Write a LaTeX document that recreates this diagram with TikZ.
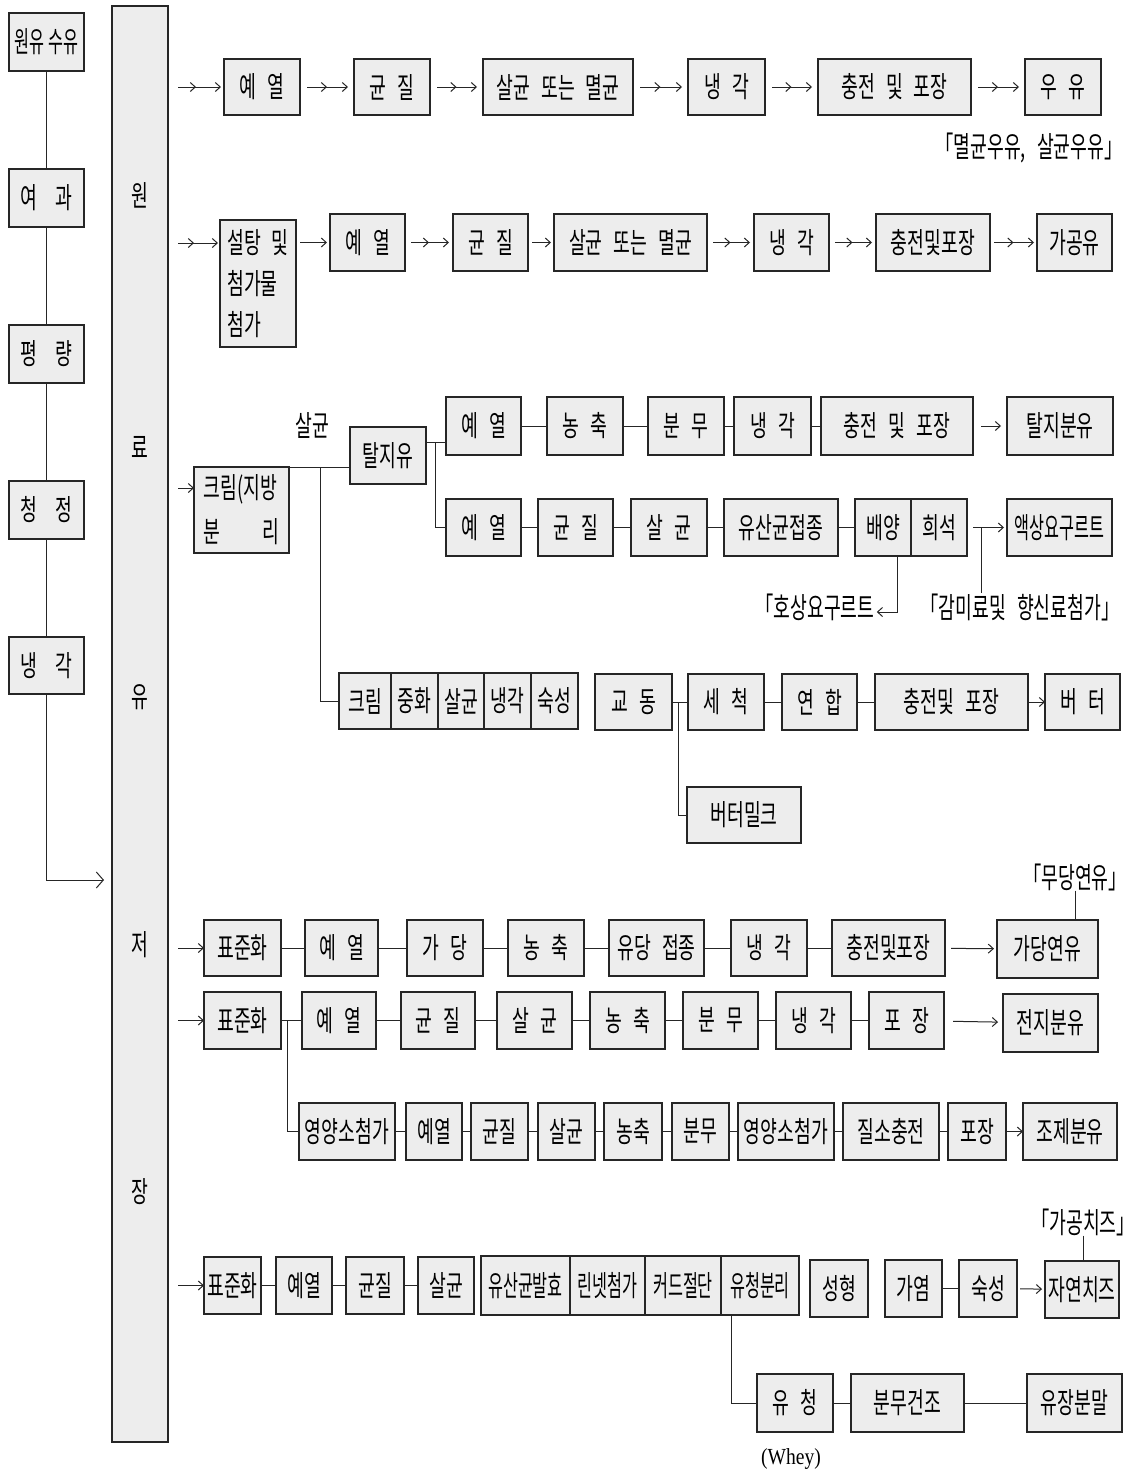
\documentclass[tikz,border=0pt]{standalone}
\usepackage{fontspec}
\newfontfamily\kr[FakeStretch=0.63]{Noto Sans CJK KR}
\newfontfamily\krs[FakeStretch=0.56]{Noto Sans CJK KR}
\newfontfamily\wh[FakeStretch=0.85]{Liberation Serif}
\usetikzlibrary{arrows.meta,calc,decorations.markings}
\newcommand\kfontsel{\kr\fontsize{29}{33}\selectfont\spaceskip=11pt\relax}
\newcommand\wfontsel{\wh\fontsize{23}{26}\selectfont}
\newcommand\mybox[6]{%
  \pgfmathsetmacro\mybw{#4-#2}\pgfmathsetmacro\mybh{#5-#3}%
  \pgfmathsetmacro\mycx{(#2+#4)/2}\pgfmathsetmacro\mycy{(#3+#5)/2}%
  \node[bx,minimum width=\mybw pt,minimum height=\mybh pt] (#1) at (\mycx,\mycy) {#6};}
\begin{document}
\begin{tikzpicture}[x=1pt,y=-1pt,
  bx/.style={draw=black!85,line width=1.3pt,fill=black!7,inner sep=0pt,outer sep=0pt,font=\kfontsel,align=center},
  txt/.style={inner sep=0pt,font=\kfontsel},
  ln/.style={line width=1pt,draw=black!85},
  ar/.style={ln,-{Straight Barb[length=5pt,width=9pt]}},
  dar/.style={ar,postaction={decorate},decoration={markings,mark=at position 0.5 with {\arrow{Straight Barb[length=5pt,width=9pt]}}}}]
\fill[white] (0,0) rectangle (1136,1473);
\useasboundingbox (0,0) rectangle (1136,1473);
% left column
\mybox{l1}{9}{13}{84}{71}{{\krs\spaceskip=4pt 원유 수유}}
\mybox{l2}{9}{169}{84}{227}{여\hspace{18pt}과}
\mybox{l3}{9}{325}{84}{383}{평\hspace{18pt}량}
\mybox{l4}{9}{481}{84}{539}{청\hspace{18pt}정}
\mybox{l5}{9}{637}{84}{694}{냉\hspace{18pt}각}
\coordinate (la) at (104,880);
\draw[ln] (l1)--(l2) (l2)--(l3) (l3)--(l4) (l4)--(l5);
\draw[ln,-{Straight Barb[length=7pt,width=16pt]}] (l5.south) |- (la);
% storage
\mybox{store}{112}{6}{168}{1442}{}
\node[txt] (s1) at (140,195) {원};
\node[txt] (s2) at (140,447) {료};
\node[txt] (s3) at (140,697) {유};
\node[txt] (s4) at (140,945) {저};
\node[txt] (s5) at (140,1192) {장};
% row 1
\mybox{r1a}{224}{59}{300}{115}{예 열}
\mybox{r1b}{354}{59}{430}{115}{균 질}
\mybox{r1c}{483}{59}{633}{115}{살균 또는 멸균}
\mybox{r1d}{688}{59}{765}{115}{냉 각}
\mybox{r1e}{818}{59}{971}{115}{충전 및 포장}
\mybox{r1f}{1025}{59}{1101}{115}{우 유}
\node[txt] (c1) at (1029,148) {「멸균우유, 살균우유」};
\draw[dar,shorten <=10pt,shorten >=3pt] (r1a.west -| store.east) -- (r1a.west);
\draw[dar,shorten <=7pt,shorten >=6pt] (r1a) -- (r1b);
\draw[dar,shorten <=7pt,shorten >=6pt] (r1b) -- (r1c);
\draw[dar,shorten <=7pt,shorten >=6pt] (r1c) -- (r1d);
\draw[dar,shorten <=7pt,shorten >=6pt] (r1d) -- (r1e);
\draw[dar,shorten <=7pt,shorten >=6pt] (r1e) -- (r1f);
% row 2
\mybox{r2a}{220}{220}{296}{347}{}
\node[txt,align=left] (r2at) at (r2a.center) {설탕 및\\[8pt]첨가물\\[8pt]첨가};
\mybox{r2b}{330}{214}{405}{271}{예 열}
\mybox{r2c}{453}{214}{528}{271}{균 질}
\mybox{r2d}{554}{214}{707}{271}{살균 또는 멸균}
\mybox{r2e}{754}{214}{829}{271}{냉 각}
\mybox{r2f}{876}{214}{990}{271}{충전및포장}
\mybox{r2g}{1037}{214}{1112}{271}{가공유}
\coordinate (r2in) at ($(r2a.north west)+(0,23)$);
\draw[dar,shorten <=10pt,shorten >=2pt] (r2in -| store.east) -- (r2in);
\draw[ar,shorten <=4pt,shorten >=3pt] (r2a.east |- r2b.west) -- (r2b.west);
\draw[dar,shorten <=6pt,shorten >=4pt] (r2b) -- (r2c);
\draw[ar,shorten <=4pt,shorten >=3pt] (r2c) -- (r2d);
\draw[dar,shorten <=6pt,shorten >=4pt] (r2d) -- (r2e);
\draw[dar,shorten <=6pt,shorten >=4pt] (r2e) -- (r2f);
\draw[dar,shorten <=4pt,shorten >=3pt] (r2f) -- (r2g);
% cream separation
\mybox{krim}{194}{467}{289}{553}{}
\node[txt,align=left] (krimt) at (krim.center) {크림(지방\\[11pt]분\hspace*{42pt}리};
\node[txt] (sal) at (312,425) {살균};
\mybox{tal}{350}{427}{426}{484}{탈지유}
\coordinate (kin) at ($(krim.west)+(0,-22)$);
\draw[ar,shorten <=10pt] (kin -| store.east) -- (kin);
\draw[ln] (krim.north east) -- (krim.north east -| tal.west);
\coordinate (j1) at (320,468);
% upper skim branch
\mybox{su1}{446}{397}{521}{455}{예 열}
\mybox{su2}{547}{397}{623}{455}{농 축}
\mybox{su3}{648}{397}{724}{455}{분 무}
\mybox{su4}{734}{397}{811}{455}{냉 각}
\mybox{su5}{821}{397}{973}{455}{충전 및 포장}
\mybox{su6}{1007}{397}{1113}{455}{탈지분유}
\coordinate (talo) at ($(tal.east)+(0,-13)$);
\coordinate (j2) at (435,442);
\draw[ln] (talo) -- (talo -| su1.west);
\draw[ln] (su1)--(su2) (su2)--(su3) (su3)--(su4) (su4)--(su5);
\draw[ar,shorten <=8pt,shorten >=6pt] (su5) -- (su6);
% lower yoghurt branch
\mybox{sl1}{446}{499}{521}{556}{예 열}
\mybox{sl2}{538}{499}{613}{556}{균 질}
\mybox{sl3}{631}{499}{707}{556}{살 균}
\mybox{sl4}{724}{499}{838}{556}{유산균접종}
\mybox{sl5}{855}{499}{911}{556}{배양}
\mybox{sl6}{911}{499}{967}{556}{희석}
\mybox{sl7}{1007}{499}{1112}{556}{{\krs 액상요구르트}}
\draw[line width=2.6pt,draw=black!85] (sl5.north east) -- (sl5.south east);
\draw[ln] (j2) |- (sl1.west);
\draw[ln] (sl1)--(sl2) (sl2)--(sl3) (sl3)--(sl4) (sl4)--(sl5);
\draw[ar,shorten <=6pt,shorten >=3pt] (sl6) -- (sl7);
\coordinate (j3) at (981,528);
\node[txt] (cap1) at (815,607) {「호상요구르트};
\node[txt] (cap2) at (1020,607) {「감미료및 향신료첨가」};
\draw[ln] (j3) -- (j3 |- cap2.north);
\draw[ar] ($(sl5.south)+(14,0)$) |- ($(cap1.east)+(2,5)$);
% butter
\mybox{bk1}{339}{673}{391}{729}{크림}
\mybox{bk2}{391}{673}{438}{729}{중화}
\mybox{bk3}{438}{673}{484}{729}{살균}
\mybox{bk4}{484}{673}{531}{729}{냉각}
\mybox{bk5}{531}{673}{578}{729}{숙성}
\mybox{bk6}{595}{674}{672}{730}{교 동}
\mybox{bk7}{688}{674}{764}{730}{세 척}
\mybox{bk8}{782}{674}{857}{730}{연 합}
\mybox{bk9}{875}{674}{1028}{730}{충전및 포장}
\mybox{bk10}{1045}{674}{1120}{730}{버 터}
\mybox{bm}{687}{787}{801}{843}{버터밀크}
\draw[ln] (j1) |- (bk1.west);
\draw[ln] (bk6)--(bk7) (bk7)--(bk8) (bk8)--(bk9);
\draw[ar] (bk9) -- (bk10);
\coordinate (j4) at (678,702);
\draw[ln] (j4) |- (bm.west);
% condensed milk
\mybox{cd1}{204}{920}{281}{976}{표준화}
\mybox{cd2}{305}{920}{378}{976}{예 열}
\mybox{cd3}{407}{920}{483}{976}{가 당}
\mybox{cd4}{508}{920}{584}{976}{농 축}
\mybox{cd5}{609}{920}{704}{976}{유당 접종}
\mybox{cd6}{731}{920}{807}{976}{냉 각}
\mybox{cd7}{832}{920}{945}{976}{충전및포장}
\mybox{cd8}{997}{920}{1098}{978}{가당연유}
\node[txt] (cap3) at (1075,877) {「무당연유」};
\draw[ar,shorten <=10pt] (cd1.west -| store.east) -- (cd1.west);
\draw[ln] (cd1)--(cd2) (cd2)--(cd3) (cd3)--(cd4) (cd4)--(cd5) (cd5)--(cd6) (cd6)--(cd7);
\draw[ar,shorten <=6pt,shorten >=3pt] (cd7) -- (cd8);
\draw[ln] (cap3.south) -- (cap3.south |- cd8.north);
% whole milk powder
\mybox{w1}{204}{992}{281}{1049}{표준화}
\mybox{w2}{302}{992}{376}{1049}{예 열}
\mybox{w3}{401}{992}{475}{1049}{균 질}
\mybox{w4}{497}{992}{572}{1049}{살 균}
\mybox{w5}{590}{992}{665}{1049}{농 축}
\mybox{w6}{683}{992}{758}{1049}{분 무}
\mybox{w7}{776}{992}{851}{1049}{냉 각}
\mybox{w8}{869}{992}{944}{1049}{포 장}
\mybox{w9}{1003}{994}{1098}{1052}{전지분유}
\draw[ar,shorten <=10pt] (w1.west -| store.east) -- (w1.west);
\draw[ln] (w1)--(w2) (w2)--(w3) (w3)--(w4) (w4)--(w5) (w5)--(w6) (w6)--(w7) (w7)--(w8);
\draw[ar,shorten <=9pt,shorten >=5pt] (w8) -- (w9);
\coordinate (j5) at (287,1020);
% formula
\mybox{f1}{299}{1103}{395}{1160}{영양소첨가}
\mybox{f2}{406}{1103}{462}{1160}{예열}
\mybox{f3}{471}{1103}{528}{1160}{균질}
\mybox{f4}{538}{1103}{595}{1160}{살균}
\mybox{f5}{604}{1103}{662}{1160}{농축}
\mybox{f6}{672}{1103}{729}{1160}{분무}
\mybox{f7}{738}{1103}{834}{1160}{영양소첨가}
\mybox{f8}{843}{1103}{939}{1160}{질소충전}
\mybox{f9}{948}{1103}{1006}{1160}{포장}
\mybox{f10}{1023}{1103}{1117}{1160}{조제분유}
\draw[ln] (j5) |- (f1.west);
\draw[ln] (f1)--(f2) (f2)--(f3) (f3)--(f4) (f4)--(f5) (f5)--(f6) (f6)--(f7) (f7)--(f8) (f8)--(f9);
\draw[ar] (f9) -- (f10);
% cheese
\mybox{ch1}{204}{1257}{261}{1314}{표준화}
\mybox{ch2}{276}{1257}{332}{1314}{예열}
\mybox{ch3}{346}{1257}{404}{1314}{균질}
\mybox{ch4}{418}{1257}{474}{1314}{살균}
\mybox{ch5}{481}{1256}{570}{1315}{{\krs 유산균발효}}
\mybox{ch6}{570}{1256}{645}{1315}{{\krs 린넷첨가}}
\mybox{ch7}{645}{1256}{721}{1315}{{\krs 커드절단}}
\mybox{ch8}{721}{1256}{799}{1315}{{\krs 유청분리}}
\mybox{ch9}{810}{1260}{868}{1317}{성형}
\mybox{ch10}{885}{1260}{942}{1317}{가염}
\mybox{ch11}{959}{1260}{1017}{1317}{숙성}
\mybox{ch12}{1045}{1261}{1119}{1318}{자연치즈}
\node[txt] (cap4) at (1083,1222) {「가공치즈」};
\draw[ar,shorten <=10pt] (ch1.west -| store.east) -- (ch1.west);
\draw[ln] (ch1)--(ch2) (ch2)--(ch3) (ch3)--(ch4) (ch10)--(ch11);
\draw[ar,shorten <=3pt,shorten >=3pt] (ch11) -- (ch12);
\draw[ln] (cap4.south) -- (cap4.south |- ch12.north);
% whey
\mybox{wh1}{757}{1374}{833}{1432}{유 청}
\mybox{wh2}{851}{1374}{964}{1432}{분무건조}
\mybox{wh3}{1027}{1374}{1122}{1432}{유장분말}
\draw[ln] ($(ch8.south west)+(10,0)$) |- (wh1.west);
\draw[ln] (wh1)--(wh2) (wh2)--(wh3);
\node[inner sep=0pt,font=\wfontsel] (whey) at (791,1459) {(Whey)};
% junction verticals
\draw[ln] (j2) -- (j2 |- talo);
\end{tikzpicture}
\end{document}
